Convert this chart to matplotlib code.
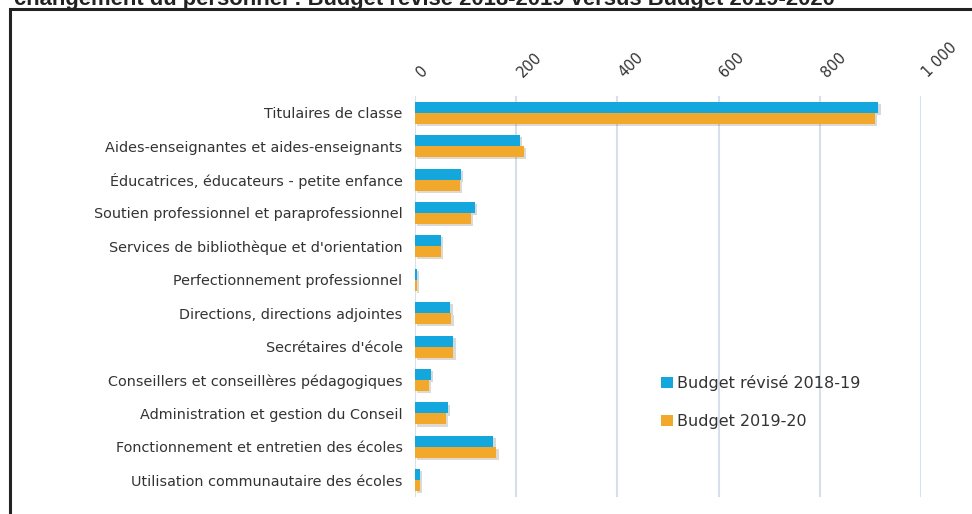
import matplotlib
matplotlib.use('Agg')
import matplotlib.pyplot as plt
import matplotlib.patheffects as pe
import matplotlib.transforms as mtrans
from matplotlib.patches import Rectangle
from matplotlib.ticker import FuncFormatter
import numpy as np

# Data
categories = [
    "Titulaires de classe",
    "Aides-enseignantes et aides-enseignants",
    "Éducatrices, éducateurs - petite enfance",
    "Soutien professionnel et paraprofessionnel",
    "Services de bibliothèque et d'orientation",
    "Perfectionnement professionnel",
    "Directions, directions adjointes",
    "Secrétaires d'école",
    "Conseillers et conseillères pédagogiques",
    "Administration et gestion du Conseil",
    "Fonctionnement et entretien des écoles",
    "Utilisation communautaire des écoles",
]
budget_2018_19 = [916, 208, 90, 118, 52, 3, 70, 76, 31, 65, 155, 9]
budget_2019_20 = [909, 216, 88, 111, 52, 3, 72, 76, 27, 62, 161, 9]
series_names = ["Budget révisé 2018-19", "Budget 2019-20"]
x_ticks = [0, 200, 400, 600, 800, 1000]

title = "changement du personnel : Budget révisé 2018-2019 versus Budget 2019-2020"

BLUE = '#14A7DD'
ORANGE = '#F2A92B'

W, H = 972, 514
fig = plt.figure(figsize=(W / 100, H / 100), dpi=100)

# outer frame (cut off at right and bottom like the source)
fig.patches.append(Rectangle((10 / W, -0.05), 1.1, 1.05 - 9 / H, transform=fig.transFigure,
                             fill=False, edgecolor='#222222', linewidth=2.2))
fig.text(14 / W, 1 - 5 / H, title, ha='left', va='baseline', fontsize=15.8,
         fontweight='bold', family='Liberation Sans', color='#222222')

ax = fig.add_axes([415 / W, 17 / H, 506 / W, 401 / H])

y = np.arange(len(categories))
h = 0.33
shadow = [pe.SimplePatchShadow(offset=(1.5, -1.5), alpha=0.18), pe.Normal()]
b1 = ax.barh(y - h / 2, budget_2018_19, height=h, color=BLUE, label=series_names[0], zorder=3)
b2 = ax.barh(y + h / 2, budget_2019_20, height=h, color=ORANGE, label=series_names[1], zorder=3)
for bars in (b1, b2):
    for p in bars:
        p.set_path_effects(shadow)

ax.set_xlim(0, 1000)
ax.set_ylim(len(categories) - 0.5, -0.5)
ax.set_yticks(y)
ax.set_yticklabels(categories, fontsize=10.4, color='#333333')
ax.set_xticks(x_ticks)
ax.xaxis.set_major_formatter(FuncFormatter(lambda v, _: f"{int(v):,}".replace(',', ' ')))
ax.xaxis.tick_top()
ax.tick_params(axis='both', length=0, colors='#333333')
ax.tick_params(axis='y', pad=9)
ax.tick_params(axis='x', pad=8, labelsize=10.5)
shift = mtrans.ScaledTranslation(0.09, 0.05, fig.dpi_scale_trans)
for lbl in ax.get_xticklabels():
    lbl.set_rotation(45)
    lbl.set_ha('left')
    lbl.set_va('bottom')
    lbl.set_rotation_mode('anchor')
    lbl.set_transform(lbl.get_transform() + shift)

ax.grid(axis='x', color='#D5E0EC', linewidth=1.5, zorder=0)
for s in ax.spines.values():
    s.set_visible(False)

leg = ax.legend(loc='upper left', bbox_to_anchor=(655 / W, 1 - 369 / H), bbox_transform=fig.transFigure,
                frameon=False, fontsize=11.5, handlelength=0.7, handleheight=0.7, handletextpad=0.3,
                labelspacing=1.4, borderaxespad=0, labelcolor='#333333')
for hnd in leg.legend_handles:
    hnd.set_path_effects([])

fig.savefig('out.png', dpi=100)
